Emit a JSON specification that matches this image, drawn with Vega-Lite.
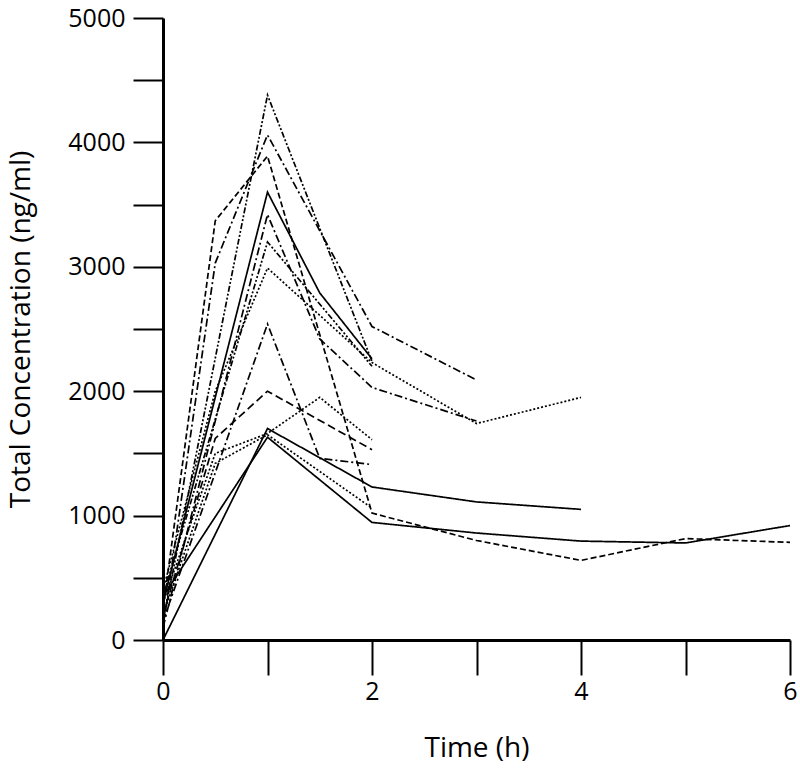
{
  "$schema": "https://vega.github.io/schema/vega-lite/v6.json",
  "autosize": "none",
  "width": 627,
  "height": 622,
  "padding": {"left": 163, "top": 18, "right": 10, "bottom": 137},
  "background": "white",
  "config": {
    "view": {"stroke": null},
    "font": "Open Sans",
    "axis": {"grid": false, "domainColor": "black", "tickColor": "black", "labelColor": "black", "titleColor": "black", "labelFont": "Open Sans", "titleFont": "Open Sans", "labelFontSize": 25, "titleFontSize": 28, "titleFontWeight": "normal", "domainWidth": 3, "tickWidth": 2}
  },
  "data": {
    "values": [
      {"subject": "S01", "time": 0, "conc": 150}, {"subject": "S01", "time": 1, "conc": 4380}, {"subject": "S01", "time": 2, "conc": 2240},
      {"subject": "S02", "time": 0, "conc": 100}, {"subject": "S02", "time": 0.5, "conc": 3030}, {"subject": "S02", "time": 1, "conc": 4060}, {"subject": "S02", "time": 2, "conc": 2520}, {"subject": "S02", "time": 3, "conc": 2090},
      {"subject": "S03", "time": 0, "conc": 250}, {"subject": "S03", "time": 0.5, "conc": 3370}, {"subject": "S03", "time": 1, "conc": 3890}, {"subject": "S03", "time": 2, "conc": 1020}, {"subject": "S03", "time": 3, "conc": 800}, {"subject": "S03", "time": 4, "conc": 640}, {"subject": "S03", "time": 5, "conc": 815}, {"subject": "S03", "time": 6, "conc": 785},
      {"subject": "S04", "time": 0, "conc": 300}, {"subject": "S04", "time": 1, "conc": 3600}, {"subject": "S04", "time": 1.5, "conc": 2790}, {"subject": "S04", "time": 2, "conc": 2260},
      {"subject": "S05", "time": 0, "conc": 100}, {"subject": "S05", "time": 1, "conc": 3420}, {"subject": "S05", "time": 1.5, "conc": 2420}, {"subject": "S05", "time": 2, "conc": 2030}, {"subject": "S05", "time": 3, "conc": 1760},
      {"subject": "S06", "time": 0, "conc": 350}, {"subject": "S06", "time": 1, "conc": 3200}, {"subject": "S06", "time": 2, "conc": 2200},
      {"subject": "S07", "time": 0, "conc": 400}, {"subject": "S07", "time": 0.5, "conc": 2000}, {"subject": "S07", "time": 1, "conc": 2990}, {"subject": "S07", "time": 2, "conc": 2230}, {"subject": "S07", "time": 3, "conc": 1740}, {"subject": "S07", "time": 4, "conc": 1950},
      {"subject": "S08", "time": 0, "conc": 150}, {"subject": "S08", "time": 1, "conc": 2540}, {"subject": "S08", "time": 1.5, "conc": 1460}, {"subject": "S08", "time": 2, "conc": 1410},
      {"subject": "S09", "time": 0, "conc": 200}, {"subject": "S09", "time": 0.5, "conc": 1620}, {"subject": "S09", "time": 1, "conc": 2000}, {"subject": "S09", "time": 2, "conc": 1530},
      {"subject": "S10", "time": 0, "conc": 300}, {"subject": "S10", "time": 0.5, "conc": 1500}, {"subject": "S10", "time": 1, "conc": 1660}, {"subject": "S10", "time": 1.5, "conc": 1950}, {"subject": "S10", "time": 2, "conc": 1610},
      {"subject": "S11", "time": 0, "conc": 200}, {"subject": "S11", "time": 0.5, "conc": 1420}, {"subject": "S11", "time": 1, "conc": 1650}, {"subject": "S11", "time": 2, "conc": 1060},
      {"subject": "S12", "time": 0, "conc": 0}, {"subject": "S12", "time": 1, "conc": 1700}, {"subject": "S12", "time": 2, "conc": 1230}, {"subject": "S12", "time": 3, "conc": 1110}, {"subject": "S12", "time": 4, "conc": 1050},
      {"subject": "S13", "time": 0, "conc": 350}, {"subject": "S13", "time": 1, "conc": 1630}, {"subject": "S13", "time": 2, "conc": 945}, {"subject": "S13", "time": 3, "conc": 860}, {"subject": "S13", "time": 4, "conc": 795}, {"subject": "S13", "time": 5, "conc": 780}, {"subject": "S13", "time": 6, "conc": 920}
    ]
  },
  "mark": {"type": "line", "color": "black", "strokeWidth": 1.7, "clip": false},
  "encoding": {
    "x": {
      "field": "time", "type": "quantitative",
      "scale": {"domain": [0, 6], "nice": false, "zero": false},
      "axis": {"title": "Time (h)", "values": [0, 1, 2, 3, 4, 5, 6], "labelExpr": "datum.value % 2 === 0 ? datum.label : ''", "labelFlush": false, "tickSize": 35, "labelPadding": 4, "titlePadding": 30, "domain": true}
    },
    "y": {
      "field": "conc", "type": "quantitative",
      "scale": {"domain": [0, 5000], "nice": false},
      "axis": {"title": "Total Concentration (ng/ml)", "values": [0, 500, 1000, 1500, 2000, 2500, 3000, 3500, 4000, 4500, 5000], "labelExpr": "datum.value % 1000 === 0 ? datum.label : ''", "labelFlush": false, "format": "d", "tickSize": 30, "labelPadding": 8, "titlePadding": 32}
    },
    "detail": {"field": "subject"},
    "strokeDash": {
      "field": "subject", "type": "nominal", "legend": null,
      "scale": {
        "domain": ["S01", "S02", "S03", "S04", "S05", "S06", "S07", "S08", "S09", "S10", "S11", "S12", "S13"],
        "range": [[6, 2, 2, 2, 2, 2], [8, 3, 2, 3], [6, 3], [1, 0], [8, 3, 2, 3], [6, 2, 2, 2, 2, 2], [2, 2], [8, 3, 2, 3], [8, 4], [2, 2], [2, 2], [1, 0], [1, 0]]
      }
    }
  }
}
